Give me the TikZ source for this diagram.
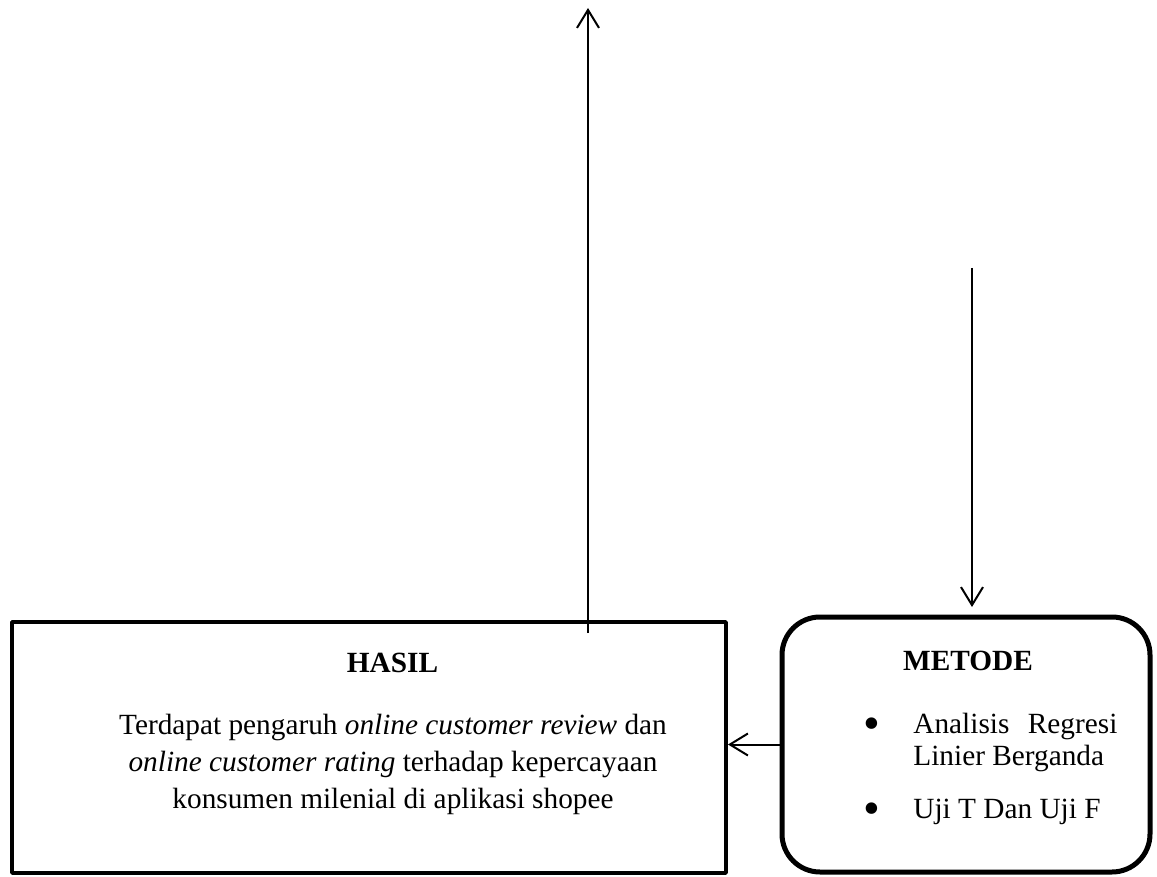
\documentclass[tikz,border=0pt]{standalone}
\usepackage{fontspec}
\setmainfont{Liberation Serif}
\usetikzlibrary{arrows.meta,positioning}

\begin{document}
\begin{tikzpicture}[x=0.5pt,y=-0.5pt,>={Straight Barb[length=9pt,width=11pt]},line join=bevel,
  txt/.style={font=\fontsize{14.65pt}{18.35pt}\selectfont,inner sep=0pt},
  dot/.style={font=\fontsize{24pt}{24pt}\selectfont,inner sep=0pt},
  hasilbox/.style={draw,line width=2pt,minimum width=357pt,minimum height=125.5pt,inner sep=0pt},
  metodebox/.style={draw,line width=2.5pt,rounded corners=19pt,minimum width=184pt,minimum height=127.5pt,inner sep=0pt},
  conn/.style={line width=1pt}]
  \useasboundingbox (0,0) rectangle (1157,877);
%%
  % Node: HASIL
  \node[hasilbox] (hasil) at (369,747.5) {};
  \node[txt,anchor=base,font=\fontsize{14.65pt}{18.35pt}\selectfont\bfseries] (hasiltitle) at (392.5,672) {HASIL};
  \node[txt,anchor=base,align=center] (hasiltext) at (393,808) {Terdapat pengaruh \textit{online customer review} dan\\
    \textit{online customer rating} terhadap kepercayaan\\konsumen milenial di aplikasi shopee};
  % Node: METODE
  \node[metodebox] (metode) at (966,744.5) {};
  \node[txt,anchor=base,font=\fontsize{14.65pt}{18.35pt}\selectfont\bfseries] (metodetitle) at (968,670) {METODE};
  \node[dot] (bulletA) at (872,729) {\textbullet};
  \node[txt,anchor=base west,align=left,font=\fontsize{14.65pt}{16pt}\selectfont] (itemA) at (913,765)
    {\makebox[102pt][s]{Analisis Regresi}\\Linier Berganda};
  \node[dot] (bulletB) at (872,814) {\textbullet};
  \node[txt,anchor=base west] (itemB) at (913,818) {Uji T Dan Uji F};
%%
  % Edge: HASIL -> top
  \coordinate (upfoot) at (588,633);
  \coordinate (uptop) at (588,8);
  \draw[conn,->] (upfoot) -- (uptop);
  % Edge: top -> METODE
  \coordinate (downstart) at (972,268);
  \draw[conn,->,shorten >=3.75pt] (downstart) -- (downstart |- metode.north);
  % Edge: METODE -> HASIL
  \draw[conn,->] (metode.west) -- (hasil.east |- metode.west);
%
\end{tikzpicture}
\end{document}
